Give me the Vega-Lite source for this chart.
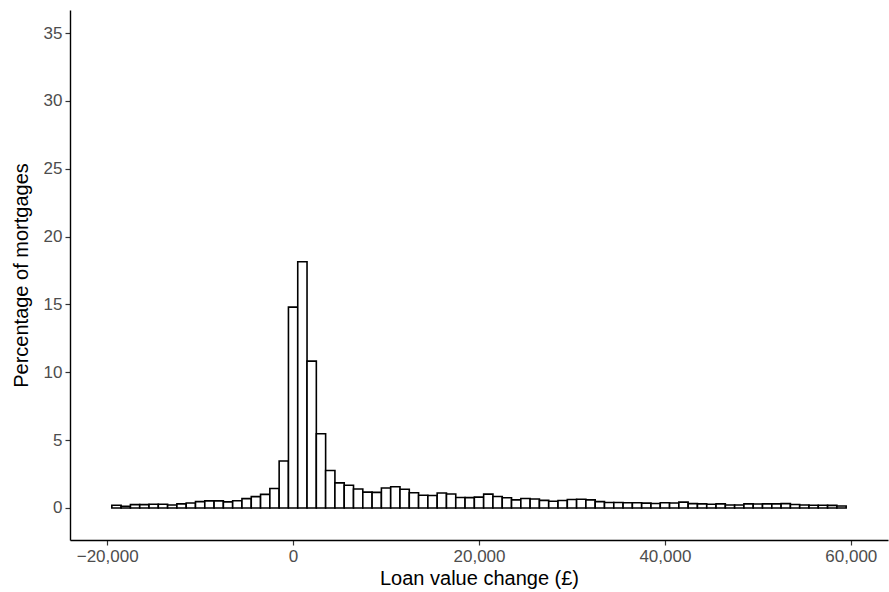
{
  "$schema": "https://vega.github.io/schema/vega-lite/v6.json",
  "width": 818,
  "height": 530,
  "autosize": "none",
  "padding": {"left": 70, "top": 10, "right": 1, "bottom": 52},
  "background": "white",
  "config": {
    "view": {"stroke": null},
    "font": "Liberation Sans",
    "axis": {
      "grid": false,
      "domainColor": "black",
      "domainWidth": 1.4,
      "tickColor": "#333333",
      "tickWidth": 1.2,
      "tickSize": 5,
      "labelFont": "Liberation Sans",
      "labelFontSize": 17,
      "labelColor": "#4d4d4d",
      "labelPadding": 3,
      "titleFont": "Liberation Sans",
      "titleFontSize": 20,
      "titleFontWeight": "normal",
      "titleColor": "black"
    }
  },
  "data": {
    "values": [
      {"bin_start": -19500, "bin_end": -18500, "pct": 0.2},
      {"bin_start": -18500, "bin_end": -17500, "pct": 0.13},
      {"bin_start": -17500, "bin_end": -16500, "pct": 0.25},
      {"bin_start": -16500, "bin_end": -15500, "pct": 0.25},
      {"bin_start": -15500, "bin_end": -14500, "pct": 0.27},
      {"bin_start": -14500, "bin_end": -13500, "pct": 0.27},
      {"bin_start": -13500, "bin_end": -12500, "pct": 0.22},
      {"bin_start": -12500, "bin_end": -11500, "pct": 0.3},
      {"bin_start": -11500, "bin_end": -10500, "pct": 0.37},
      {"bin_start": -10500, "bin_end": -9500, "pct": 0.47},
      {"bin_start": -9500, "bin_end": -8500, "pct": 0.52},
      {"bin_start": -8500, "bin_end": -7500, "pct": 0.52},
      {"bin_start": -7500, "bin_end": -6500, "pct": 0.45},
      {"bin_start": -6500, "bin_end": -5500, "pct": 0.53},
      {"bin_start": -5500, "bin_end": -4500, "pct": 0.69},
      {"bin_start": -4500, "bin_end": -3500, "pct": 0.84},
      {"bin_start": -3500, "bin_end": -2500, "pct": 1.0},
      {"bin_start": -2500, "bin_end": -1500, "pct": 1.44},
      {"bin_start": -1500, "bin_end": -500, "pct": 3.46},
      {"bin_start": -500, "bin_end": 500, "pct": 14.8},
      {"bin_start": 500, "bin_end": 1500, "pct": 18.15},
      {"bin_start": 1500, "bin_end": 2500, "pct": 10.82},
      {"bin_start": 2500, "bin_end": 3500, "pct": 5.47},
      {"bin_start": 3500, "bin_end": 4500, "pct": 2.76},
      {"bin_start": 4500, "bin_end": 5500, "pct": 1.85},
      {"bin_start": 5500, "bin_end": 6500, "pct": 1.68},
      {"bin_start": 6500, "bin_end": 7500, "pct": 1.4},
      {"bin_start": 7500, "bin_end": 8500, "pct": 1.17},
      {"bin_start": 8500, "bin_end": 9500, "pct": 1.15},
      {"bin_start": 9500, "bin_end": 10500, "pct": 1.47},
      {"bin_start": 10500, "bin_end": 11500, "pct": 1.56},
      {"bin_start": 11500, "bin_end": 12500, "pct": 1.38},
      {"bin_start": 12500, "bin_end": 13500, "pct": 1.12},
      {"bin_start": 13500, "bin_end": 14500, "pct": 0.94},
      {"bin_start": 14500, "bin_end": 15500, "pct": 0.92},
      {"bin_start": 15500, "bin_end": 16500, "pct": 1.1},
      {"bin_start": 16500, "bin_end": 17500, "pct": 1.03},
      {"bin_start": 17500, "bin_end": 18500, "pct": 0.77},
      {"bin_start": 18500, "bin_end": 19500, "pct": 0.76},
      {"bin_start": 19500, "bin_end": 20500, "pct": 0.8},
      {"bin_start": 20500, "bin_end": 21500, "pct": 1.02},
      {"bin_start": 21500, "bin_end": 22500, "pct": 0.85},
      {"bin_start": 22500, "bin_end": 23500, "pct": 0.75},
      {"bin_start": 23500, "bin_end": 24500, "pct": 0.6},
      {"bin_start": 24500, "bin_end": 25500, "pct": 0.7},
      {"bin_start": 25500, "bin_end": 26500, "pct": 0.66},
      {"bin_start": 26500, "bin_end": 27500, "pct": 0.56},
      {"bin_start": 27500, "bin_end": 28500, "pct": 0.5},
      {"bin_start": 28500, "bin_end": 29500, "pct": 0.55},
      {"bin_start": 29500, "bin_end": 30500, "pct": 0.63},
      {"bin_start": 30500, "bin_end": 31500, "pct": 0.64},
      {"bin_start": 31500, "bin_end": 32500, "pct": 0.6},
      {"bin_start": 32500, "bin_end": 33500, "pct": 0.47},
      {"bin_start": 33500, "bin_end": 34500, "pct": 0.4},
      {"bin_start": 34500, "bin_end": 35500, "pct": 0.4},
      {"bin_start": 35500, "bin_end": 36500, "pct": 0.39},
      {"bin_start": 36500, "bin_end": 37500, "pct": 0.39},
      {"bin_start": 37500, "bin_end": 38500, "pct": 0.36},
      {"bin_start": 38500, "bin_end": 39500, "pct": 0.33},
      {"bin_start": 39500, "bin_end": 40500, "pct": 0.39},
      {"bin_start": 40500, "bin_end": 41500, "pct": 0.37},
      {"bin_start": 41500, "bin_end": 42500, "pct": 0.43},
      {"bin_start": 42500, "bin_end": 43500, "pct": 0.32},
      {"bin_start": 43500, "bin_end": 44500, "pct": 0.3},
      {"bin_start": 44500, "bin_end": 45500, "pct": 0.27},
      {"bin_start": 45500, "bin_end": 46500, "pct": 0.3},
      {"bin_start": 46500, "bin_end": 47500, "pct": 0.22},
      {"bin_start": 47500, "bin_end": 48500, "pct": 0.22},
      {"bin_start": 48500, "bin_end": 49500, "pct": 0.3},
      {"bin_start": 49500, "bin_end": 50500, "pct": 0.29},
      {"bin_start": 50500, "bin_end": 51500, "pct": 0.3},
      {"bin_start": 51500, "bin_end": 52500, "pct": 0.3},
      {"bin_start": 52500, "bin_end": 53500, "pct": 0.32},
      {"bin_start": 53500, "bin_end": 54500, "pct": 0.26},
      {"bin_start": 54500, "bin_end": 55500, "pct": 0.22},
      {"bin_start": 55500, "bin_end": 56500, "pct": 0.2},
      {"bin_start": 56500, "bin_end": 57500, "pct": 0.2},
      {"bin_start": 57500, "bin_end": 58500, "pct": 0.19},
      {"bin_start": 58500, "bin_end": 59500, "pct": 0.15}
    ]
  },
  "mark": {"type": "bar", "fill": "white", "stroke": "black", "strokeWidth": 1.6},
  "encoding": {
    "x": {
      "field": "bin_start",
      "type": "quantitative",
      "scale": {"domain": [-24000, 64000], "nice": false, "zero": false},
      "axis": {"values": [-20000, 0, 20000, 40000, 60000], "format": ",.0f", "title": "Loan value change (£)", "titlePadding": 4}
    },
    "x2": {"field": "bin_end"},
    "y": {
      "field": "pct",
      "type": "quantitative",
      "scale": {"domain": [-2.36, 36.7], "nice": false, "zero": false},
      "axis": {"values": [0, 5, 10, 15, 20, 25, 30, 35], "title": "Percentage of mortgages", "titlePadding": 12}
    },
    "y2": {"datum": 0}
  }
}
